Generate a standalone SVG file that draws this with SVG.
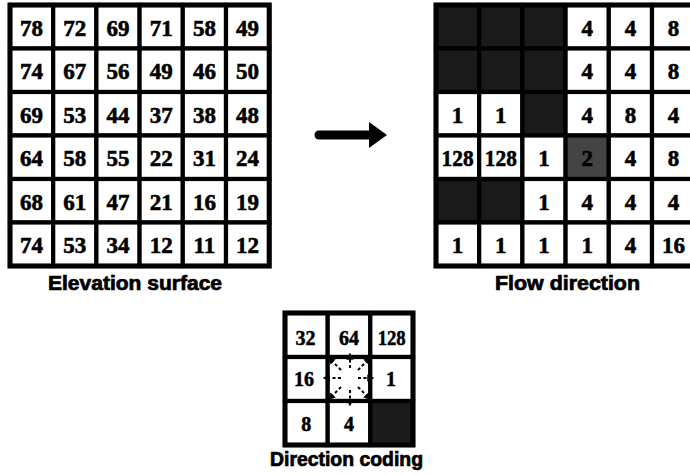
<svg xmlns="http://www.w3.org/2000/svg" width="690" height="475" viewBox="0 0 690 475">
<defs>
<style>
.cell{fill:#fff;stroke:#000;stroke-width:4.2}
.dark{fill:#1a1a1a;stroke:#000;stroke-width:4.2}
.mid{fill:#444;stroke:#000;stroke-width:4.2}
.frame{fill:none;stroke:#000;stroke-width:5}
.num{font-family:"Liberation Serif","Times New Roman",serif;font-weight:bold;font-size:23px;text-anchor:middle;fill:#000;stroke:#000;stroke-width:0.6}
.num2{font-family:"Liberation Serif","Times New Roman",serif;font-weight:bold;font-size:20px;text-anchor:middle;fill:#000;stroke:#000;stroke-width:0.5}
.lbl{font-family:"Liberation Sans",Arial,sans-serif;font-weight:bold;font-size:19.5px;fill:#000;stroke:#000;stroke-width:0.7}
.dir{fill:none;stroke:#000;stroke-width:2;stroke-dasharray:3 2.5;marker-end:url(#ah)}
</style>
<marker id="ah" viewBox="0 0 10 10" refX="8" refY="5" markerWidth="3.6" markerHeight="3.6" orient="auto">
<path d="M0,0 L10,5 L0,10 z" fill="#000"/>
</marker>
</defs>
<rect width="690" height="475" fill="#fff"/>

<g id="elevation-grid">
<rect class="cell" x="10" y="5" width="43.2" height="43.5"/><rect class="cell" x="53.2" y="5" width="43.2" height="43.5"/><rect class="cell" x="96.4" y="5" width="43.2" height="43.5"/><rect class="cell" x="139.6" y="5" width="43.2" height="43.5"/><rect class="cell" x="182.8" y="5" width="43.2" height="43.5"/><rect class="cell" x="226" y="5" width="43.2" height="43.5"/>
<rect class="cell" x="10" y="48.5" width="43.2" height="43.5"/><rect class="cell" x="53.2" y="48.5" width="43.2" height="43.5"/><rect class="cell" x="96.4" y="48.5" width="43.2" height="43.5"/><rect class="cell" x="139.6" y="48.5" width="43.2" height="43.5"/><rect class="cell" x="182.8" y="48.5" width="43.2" height="43.5"/><rect class="cell" x="226" y="48.5" width="43.2" height="43.5"/>
<rect class="cell" x="10" y="92" width="43.2" height="43.5"/><rect class="cell" x="53.2" y="92" width="43.2" height="43.5"/><rect class="cell" x="96.4" y="92" width="43.2" height="43.5"/><rect class="cell" x="139.6" y="92" width="43.2" height="43.5"/><rect class="cell" x="182.8" y="92" width="43.2" height="43.5"/><rect class="cell" x="226" y="92" width="43.2" height="43.5"/>
<rect class="cell" x="10" y="135.5" width="43.2" height="43.5"/><rect class="cell" x="53.2" y="135.5" width="43.2" height="43.5"/><rect class="cell" x="96.4" y="135.5" width="43.2" height="43.5"/><rect class="cell" x="139.6" y="135.5" width="43.2" height="43.5"/><rect class="cell" x="182.8" y="135.5" width="43.2" height="43.5"/><rect class="cell" x="226" y="135.5" width="43.2" height="43.5"/>
<rect class="cell" x="10" y="179" width="43.2" height="43.5"/><rect class="cell" x="53.2" y="179" width="43.2" height="43.5"/><rect class="cell" x="96.4" y="179" width="43.2" height="43.5"/><rect class="cell" x="139.6" y="179" width="43.2" height="43.5"/><rect class="cell" x="182.8" y="179" width="43.2" height="43.5"/><rect class="cell" x="226" y="179" width="43.2" height="43.5"/>
<rect class="cell" x="10" y="222.5" width="43.2" height="43.5"/><rect class="cell" x="53.2" y="222.5" width="43.2" height="43.5"/><rect class="cell" x="96.4" y="222.5" width="43.2" height="43.5"/><rect class="cell" x="139.6" y="222.5" width="43.2" height="43.5"/><rect class="cell" x="182.8" y="222.5" width="43.2" height="43.5"/><rect class="cell" x="226" y="222.5" width="43.2" height="43.5"/>
<rect class="frame" x="10" y="5" width="259.2" height="261"/>
<text class="num" x="31.6" y="35.5">78</text><text class="num" x="74.8" y="35.5">72</text><text class="num" x="118" y="35.5">69</text><text class="num" x="161.2" y="35.5">71</text><text class="num" x="204.4" y="35.5">58</text><text class="num" x="247.6" y="35.5">49</text>
<text class="num" x="31.6" y="79">74</text><text class="num" x="74.8" y="79">67</text><text class="num" x="118" y="79">56</text><text class="num" x="161.2" y="79">49</text><text class="num" x="204.4" y="79">46</text><text class="num" x="247.6" y="79">50</text>
<text class="num" x="31.6" y="122.5">69</text><text class="num" x="74.8" y="122.5">53</text><text class="num" x="118" y="122.5">44</text><text class="num" x="161.2" y="122.5">37</text><text class="num" x="204.4" y="122.5">38</text><text class="num" x="247.6" y="122.5">48</text>
<text class="num" x="31.6" y="166">64</text><text class="num" x="74.8" y="166">58</text><text class="num" x="118" y="166">55</text><text class="num" x="161.2" y="166">22</text><text class="num" x="204.4" y="166">31</text><text class="num" x="247.6" y="166">24</text>
<text class="num" x="31.6" y="209.5">68</text><text class="num" x="74.8" y="209.5">61</text><text class="num" x="118" y="209.5">47</text><text class="num" x="161.2" y="209.5">21</text><text class="num" x="204.4" y="209.5">16</text><text class="num" x="247.6" y="209.5">19</text>
<text class="num" x="31.6" y="253">74</text><text class="num" x="74.8" y="253">53</text><text class="num" x="118" y="253">34</text><text class="num" x="161.2" y="253">12</text><text class="num" x="204.4" y="253">11</text><text class="num" x="247.6" y="253">12</text>
<text class="lbl" x="48" y="290" textLength="174" lengthAdjust="spacingAndGlyphs">Elevation surface</text>
</g>

<g id="flow-grid">
<rect class="dark" x="436" y="5" width="43.2" height="43.5"/><rect class="dark" x="479.2" y="5" width="43.2" height="43.5"/><rect class="dark" x="522.4" y="5" width="43.2" height="43.5"/><rect class="cell" x="565.6" y="5" width="43.2" height="43.5"/><rect class="cell" x="608.8" y="5" width="43.2" height="43.5"/><rect class="cell" x="652" y="5" width="43.2" height="43.5"/>
<rect class="dark" x="436" y="48.5" width="43.2" height="43.5"/><rect class="dark" x="479.2" y="48.5" width="43.2" height="43.5"/><rect class="dark" x="522.4" y="48.5" width="43.2" height="43.5"/><rect class="cell" x="565.6" y="48.5" width="43.2" height="43.5"/><rect class="cell" x="608.8" y="48.5" width="43.2" height="43.5"/><rect class="cell" x="652" y="48.5" width="43.2" height="43.5"/>
<rect class="cell" x="436" y="92" width="43.2" height="43.5"/><rect class="cell" x="479.2" y="92" width="43.2" height="43.5"/><rect class="dark" x="522.4" y="92" width="43.2" height="43.5"/><rect class="cell" x="565.6" y="92" width="43.2" height="43.5"/><rect class="cell" x="608.8" y="92" width="43.2" height="43.5"/><rect class="cell" x="652" y="92" width="43.2" height="43.5"/>
<rect class="cell" x="436" y="135.5" width="43.2" height="43.5"/><rect class="cell" x="479.2" y="135.5" width="43.2" height="43.5"/><rect class="cell" x="522.4" y="135.5" width="43.2" height="43.5"/><rect class="mid" x="565.6" y="135.5" width="43.2" height="43.5"/><rect class="cell" x="608.8" y="135.5" width="43.2" height="43.5"/><rect class="cell" x="652" y="135.5" width="43.2" height="43.5"/>
<rect class="dark" x="436" y="179" width="43.2" height="43.5"/><rect class="dark" x="479.2" y="179" width="43.2" height="43.5"/><rect class="cell" x="522.4" y="179" width="43.2" height="43.5"/><rect class="cell" x="565.6" y="179" width="43.2" height="43.5"/><rect class="cell" x="608.8" y="179" width="43.2" height="43.5"/><rect class="cell" x="652" y="179" width="43.2" height="43.5"/>
<rect class="cell" x="436" y="222.5" width="43.2" height="43.5"/><rect class="cell" x="479.2" y="222.5" width="43.2" height="43.5"/><rect class="cell" x="522.4" y="222.5" width="43.2" height="43.5"/><rect class="cell" x="565.6" y="222.5" width="43.2" height="43.5"/><rect class="cell" x="608.8" y="222.5" width="43.2" height="43.5"/><rect class="cell" x="652" y="222.5" width="43.2" height="43.5"/>
<rect class="frame" x="436" y="5" width="259.2" height="261"/>
<text class="num" x="587.2" y="35.5">4</text><text class="num" x="630.4" y="35.5">4</text><text class="num" x="673.6" y="35.5">8</text>
<text class="num" x="587.2" y="79">4</text><text class="num" x="630.4" y="79">4</text><text class="num" x="673.6" y="79">8</text>
<text class="num" x="457.6" y="122.5">1</text><text class="num" x="500.8" y="122.5">1</text><text class="num" x="587.2" y="122.5">4</text><text class="num" x="630.4" y="122.5">8</text><text class="num" x="673.6" y="122.5">4</text>
<text class="num" x="457.6" y="166" font-size="21" textLength="32" lengthAdjust="spacingAndGlyphs">128</text><text class="num" x="500.8" y="166" font-size="21" textLength="32" lengthAdjust="spacingAndGlyphs">128</text><text class="num" x="544" y="166">1</text><text class="num" x="587.2" y="166">2</text><text class="num" x="630.4" y="166">4</text><text class="num" x="673.6" y="166">8</text>
<text class="num" x="544" y="209.5">1</text><text class="num" x="587.2" y="209.5">4</text><text class="num" x="630.4" y="209.5">4</text><text class="num" x="673.6" y="209.5">4</text>
<text class="num" x="457.6" y="253">1</text><text class="num" x="500.8" y="253">1</text><text class="num" x="544" y="253">1</text><text class="num" x="587.2" y="253">1</text><text class="num" x="630.4" y="253">4</text><text class="num" x="673.6" y="253">16</text>
<text class="lbl" x="495" y="290" textLength="145" lengthAdjust="spacingAndGlyphs">Flow direction</text>
</g>

<g id="direction-coding">
<rect class="cell" x="285" y="313" width="42.7" height="44"/><rect class="cell" x="327.7" y="313" width="42.6" height="44"/><rect class="cell" x="370.3" y="313" width="42.7" height="44"/>
<rect class="cell" x="285" y="357" width="42.7" height="44"/><rect class="cell" x="327.7" y="357" width="42.6" height="44"/><rect class="cell" x="370.3" y="357" width="42.7" height="44"/>
<rect class="cell" x="285" y="401" width="42.7" height="44"/><rect class="cell" x="327.7" y="401" width="42.6" height="44"/><rect class="dark" x="370.3" y="401" width="42.7" height="44"/>
<rect class="frame" x="285" y="313" width="128" height="132"/>
<text class="num2" x="305.5" y="345">32</text><text class="num2" x="349" y="345">64</text><text class="num2" x="391.7" y="345" textLength="28" lengthAdjust="spacingAndGlyphs">128</text>
<text class="num2" x="304" y="386">16</text><text class="num2" x="391" y="386">1</text>
<text class="num2" x="306.3" y="431">8</text><text class="num2" x="349" y="431">4</text>
<line class="dir" x1="341" y1="378" x2="324" y2="378"/>
<line class="dir" x1="358" y1="378" x2="373" y2="378"/>
<line class="dir" x1="350" y1="368" x2="350" y2="354"/>
<line class="dir" x1="350" y1="390" x2="350" y2="405"/>
<line class="dir" x1="341" y1="370" x2="329" y2="358"/>
<line class="dir" x1="358" y1="370" x2="370" y2="358"/>
<line class="dir" x1="341" y1="387" x2="329" y2="399"/>
<line class="dir" x1="358" y1="387" x2="370" y2="399"/>
<text class="lbl" x="270" y="466" textLength="153" lengthAdjust="spacingAndGlyphs">Direction coding</text>
</g>

<g id="connectors">
<line x1="319" y1="135" x2="372" y2="135" stroke="#000" stroke-width="9" stroke-linecap="round"/>
<polygon points="369,122 387,135 369,148" fill="#000"/>
</g>
</svg>
